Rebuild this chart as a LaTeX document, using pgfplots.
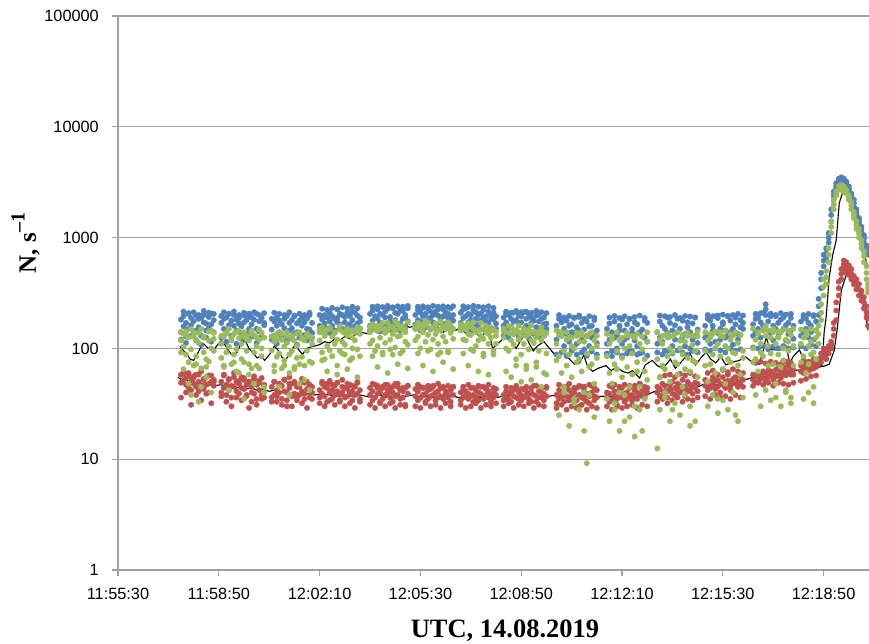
\documentclass[border=0pt]{standalone}
\usepackage{pgfplots}
\pgfplotsset{compat=1.18}
\usepackage{pgfplotstable}
\usepackage{fontspec}
\setmainfont{Liberation Serif}
\newfontfamily\tickfont{Liberation Sans}
\definecolor{cblue}{RGB}{79,129,189}
\definecolor{cred}{RGB}{192,80,77}
\definecolor{cgreen}{RGB}{155,187,89}
\definecolor{cgrid}{RGB}{160,160,160}

% t = seconds after 11:55:30 UTC
\pgfplotstableread{
t b1 b2 g1 g2 r1 r2 b3 g3 r3
125 182 140 118 92 58 49 120 140 36
130 195 158 104 135 52 61 215 65 60
135 170 128 88 142 47 55 112 132 40
140 205 150 126 48 60 44 208 75 56
145 162 188 98 150 51 42 130 38 31
150 176 134 140 70 56 48 212 128 54
155 198 145 85 120 45 58 118 72 38
160 155 185 112 33 50 41 200 138 58
165 188 130 150 66 62 46 108 45 34
170 172 200 92 128 43 53 218 125 52
175 145 168 55 80 55 47 125 68 39
180 192 152 76 118 48 40 210 142 57
185 165 206 145 100 57 50 115 40 32
190 180 140 95 138 46 52 205 122 50
205 170 196 110 82 50 40 125 130 37
210 150 185 128 70 44 58 212 68 57
215 190 138 92 140 38 47 115 136 33
220 162 205 150 104 53 42 205 42 52
225 178 125 72 118 46 36 130 125 30
230 200 160 135 88 60 45 215 75 55
235 145 182 98 62 41 50 110 140 36
240 188 168 124 145 48 39 200 60 51
245 158 135 80 110 55 44 122 128 34
250 172 198 140 75 43 52 210 35 54
255 135 180 95 130 37 47 118 122 38
260 195 150 118 58 50 29 206 72 50
265 165 190 66 145 45 40 128 134 33
270 182 128 132 92 39 56 212 48 53
275 150 205 105 70 47 35 112 126 31
280 176 142 148 120 42 51 200 66 49
285 128 188 85 100 54 38 125 138 35
290 162 170 125 45 36 46 208 40 47
305 148 185 96 128 45 36 120 128 33
310 175 130 70 115 38 50 210 62 50
315 190 160 122 84 42 33 110 135 37
320 140 178 90 138 48 40 205 45 46
325 165 120 135 66 35 46 128 120 31
330 185 152 78 104 52 41 200 70 52
335 128 196 112 140 40 30 115 130 34
340 170 145 88 60 44 55 212 38 48
345 152 180 130 95 37 48 122 124 30
350 195 136 68 118 49 39 198 65 50
355 140 168 105 82 34 45 108 136 36
360 178 125 140 72 46 38 206 48 45
365 160 190 84 125 41 53 125 122 32
370 132 172 118 52 39 35 200 70 49
375 186 150 95 136 50 43 118 132 29
380 148 200 128 76 36 47 210 42 46
385 170 138 74 110 45 40 124 126 35
400 160 200 118 140 42 36 140 150 32
405 182 145 92 155 48 39 228 78 50
410 200 168 130 80 37 45 150 142 30
415 150 190 105 148 44 33 222 62 48
420 176 210 150 96 40 51 138 155 34
425 195 160 85 128 35 42 232 85 47
430 140 185 138 110 46 38 145 140 31
435 188 172 120 70 41 49 225 58 49
440 165 205 95 160 38 34 152 148 33
445 200 150 142 115 52 40 235 90 45
450 172 192 108 88 36 44 142 138 30
455 155 210 150 130 43 37 228 65 48
460 196 165 78 140 40 47 148 146 32
465 180 215 125 100 34 41 238 82 46
470 210 158 145 118 45 38 140 140 29
475 168 198 98 155 39 50 230 55 49
480 190 175 135 85 42 35 150 152 33
500 205 160 140 110 38 44 145 155 31
505 178 220 118 165 41 34 238 85 48
510 195 150 160 95 36 47 150 148 29
515 225 185 105 145 44 39 240 68 46
520 170 205 150 125 40 32 142 160 33
525 200 158 88 170 35 45 236 92 44
530 215 190 138 112 47 38 155 150 30
535 160 228 170 145 39 42 242 60 47
540 192 175 120 98 43 36 148 158 32
545 230 165 155 135 33 40 235 88 45
550 180 210 102 175 48 37 152 145 29
555 205 155 165 128 38 45 240 72 48
560 168 222 130 90 42 35 145 152 31
565 218 185 148 160 36 41 238 95 44
570 190 200 115 140 44 31 155 148 30
575 175 230 172 108 39 46 242 66 46
590 200 165 150 118 37 43 150 158 30
595 222 180 128 170 41 34 238 90 47
600 175 210 165 100 36 45 145 150 29
605 195 232 140 155 44 38 240 70 44
610 160 205 115 178 39 33 155 162 32
615 228 185 172 132 35 42 235 95 46
620 190 215 98 150 43 37 148 152 30
625 172 200 155 120 38 46 242 62 45
630 215 160 135 168 34 40 152 155 31
635 198 225 110 145 41 36 238 88 48
640 182 170 175 92 37 44 145 148 29
645 225 195 128 160 45 35 240 75 44
650 168 212 150 115 39 41 150 160 32
655 205 188 95 172 36 38 236 92 46
660 190 230 160 138 42 33 155 146 30
665 178 200 122 150 38 45 240 65 45
680 210 170 145 165 40 34 148 152 31
685 188 225 160 120 36 43 240 90 45
690 230 195 118 150 41 38 152 148 29
695 172 205 168 135 35 39 236 70 47
700 200 180 132 98 44 37 145 158 30
705 220 160 150 172 38 33 242 95 44
710 185 212 105 140 42 36 155 145 32
715 165 200 145 118 34 40 238 62 46
720 208 178 170 130 39 45 148 150 29
725 190 222 122 90 37 35 235 85 45
730 175 195 140 160 43 38 150 155 31
735 215 168 110 135 36 41 240 58 47
740 200 185 155 125 33 39 145 146 30
745 182 210 95 148 40 36 232 88 44
750 168 195 130 110 38 43 150 142 32
765 190 160 125 150 38 34 130 145 30
770 172 205 140 100 41 36 215 62 45
775 200 150 95 160 35 40 125 138 32
780 158 185 155 118 39 33 210 55 44
785 210 175 108 135 42 37 135 148 29
790 180 140 145 80 36 44 218 70 46
795 165 198 120 160 40 35 128 140 31
800 195 172 88 130 34 38 212 50 43
805 150 212 150 110 43 36 132 145 30
810 185 160 130 70 37 41 215 65 45
815 205 145 98 148 35 39 125 135 32
820 170 190 162 118 40 33 210 52 44
825 140 178 112 140 38 46 135 142 29
830 198 155 75 125 33 37 218 68 46
835 175 205 140 95 41 36 128 136 31
840 155 185 118 155 36 40 212 45 44
845 190 165 130 60 39 34 130 140 30
850 168 150 90 138 44 37 208 58 45
870 160 120 110 78 38 32 88 145 29
875 185 140 85 130 35 42 200 25 47
880 130 172 140 60 40 36 92 130 31
885 150 105 95 45 33 38 190 40 45
890 178 135 70 120 37 45 85 140 28
895 115 160 125 88 42 34 196 20 48
900 165 140 55 105 36 39 95 125 30
905 138 190 100 32 40 35 188 35 44
910 155 110 130 75 34 44 88 138 29
915 192 145 80 115 38 30 198 28 46
920 120 170 62 140 45 36 92 132 31
925 148 98 115 40 35 41 185 18 45
930 175 130 90 9.2 39 33 86 128 28
935 105 158 135 68 32 37 195 38 47
940 160 125 72 100 40 46 94 140 30
945 135 180 48 118 37 34 190 24 44
950 145 112 105 82 42 36 88 130 29
970 150 110 85 35 36 40 90 135 30
975 120 168 60 110 39 33 190 22 46
980 95 140 120 48 34 45 85 128 28
985 175 125 72 28 41 37 196 32 47
990 132 100 95 65 35 30 92 140 31
995 160 145 40 118 38 42 188 18 45
1000 110 182 82 55 44 36 86 125 29
1005 145 120 22 100 33 39 195 38 47
1010 125 165 68 130 40 35 90 138 30
1015 185 95 105 45 37 46 185 24 44
1020 138 150 58 90 34 38 94 130 31
1025 118 172 125 30 42 36 192 16 46
1030 165 105 75 62 35 40 88 135 29
1035 90 140 45 110 39 48 198 28 48
1040 148 128 98 18 43 37 92 128 31
1045 125 178 62 80 36 41 188 35 45
1050 170 115 115 52 40 44 86 140 30
1070 140 110 80 12.5 40 45 92 140 33
1075 175 125 55 120 43 37 198 28 55
1080 115 160 110 70 38 48 88 130 35
1085 150 95 65 40 46 41 195 36 57
1090 190 138 125 85 41 36 95 135 32
1095 128 170 50 100 47 43 192 22 58
1100 105 145 92 28 39 50 90 128 34
1105 162 120 135 75 44 38 200 32 55
1110 140 185 72 58 48 42 96 140 36
1115 118 150 100 118 40 46 188 25 59
1120 178 128 45 88 43 52 92 132 33
1125 135 105 115 65 37 45 196 38 57
1130 155 172 82 130 50 41 88 138 35
1135 100 140 62 20 42 47 194 30 60
1140 168 120 108 78 45 39 95 130 34
1145 130 190 75 95 49 44 190 22 56
1150 148 112 128 55 41 48 92 142 36
1165 160 125 95 70 46 52 98 140 37
1170 130 185 118 50 42 49 200 30 60
1175 178 110 72 125 50 44 95 135 35
1180 145 160 135 88 47 55 195 38 63
1185 115 195 60 100 43 51 100 142 38
1190 188 138 110 35 52 45 198 26 58
1195 150 120 85 140 48 40 96 130 36
1200 172 165 128 65 55 47 202 34 64
1205 125 145 48 105 44 50 92 145 37
1210 195 130 100 80 51 58 196 28 61
1215 140 178 75 120 46 42 100 135 35
1220 108 150 130 92 53 49 200 40 65
1225 165 190 90 25 48 55 95 140 38
1230 135 120 112 70 50 45 205 22 62
1235 180 155 58 132 56 47 98 132 36
1240 150 170 95 82 45 52 198 36 60
1260 165 130 100 75 52 58 102 150 46
1265 140 185 80 120 56 49 205 38 74
1270 190 150 135 62 50 60 100 140 49
1275 125 172 92 110 58 53 208 30 76
1280 210 160 145 85 54 62 105 148 47
1285 250 225 160 130 60 51 200 42 73
1290 175 145 105 70 55 63 98 145 49
1295 138 195 125 90 62 57 206 34 76
1300 160 118 72 140 58 52 104 150 46
1305 195 150 110 48 64 56 200 36 74
1310 128 170 88 125 57 66 100 142 49
1315 182 140 140 68 61 54 208 30 72
1320 150 190 78 100 59 68 105 148 48
1325 118 162 120 42 63 57 202 40 76
1330 170 135 95 115 60 70 100 145 47
1335 145 188 132 36 66 58 205 32 74
1340 160 122 70 105 58 64 102 150 49
1355 175 130 110 75 62 70 105 148 51
1360 140 190 85 125 66 60 200 35 78
1365 185 150 130 60 64 72 100 142 53
1370 125 170 72 105 68 63 205 40 76
1375 160 140 115 88 70 65 108 150 56
1380 195 120 92 45 66 74 200 32 80
1385 145 175 125 80 72 68 105 145 57
1390 200 280 110 160 72 80 240 135 76
1395 350 480 180 250 75 90 420 210 82
1400 550 700 300 420 85 100 620 360 92
1405 800 650 500 380 95 80 720 440 88
1410 900 1100 600 800 105 90 1000 700 98
1415 1400 1800 1100 1400 115 100 1600 1250 108
1420 2200 2600 1800 2200 130 170 2400 2000 150
1425 2800 3100 2400 2600 180 260 2950 2500 220
1430 3200 3400 2700 2900 300 400 3300 2800 350
1435 3500 3300 3000 2700 420 520 3400 2850 470
1440 3400 3100 2900 2600 520 620 3250 2750 570
1445 3200 2900 2700 2500 600 480 3050 2600 540
1450 2900 2600 2400 2200 560 460 2750 2300 510
1455 2500 2300 2100 1800 520 420 2400 1950 470
1460 2200 1900 1700 1500 450 380 2050 1600 410
1465 1800 1600 1400 1200 420 340 1700 1300 380
1470 1500 1350 1200 1000 380 300 1420 1100 340
1475 1250 1100 950 800 330 270 1180 880 300
1480 1050 900 750 600 290 230 980 680 260
1485 850 750 550 420 240 190 800 480 215
1488 780 700 380 320 210 160 740 350 185
}\scat

\pgfplotstableread{
t v
123 105
130 95
137 88
143 80
150 78
157 88
163 100
170 110
177 102
185 98
192 100
205 118
212 108
220 95
228 85
236 92
244 110
252 118
260 100
268 90
276 82
284 86
291 78
302 90
310 105
318 96
326 82
334 80
342 95
350 105
358 98
366 88
374 100
386 104
400 108
410 115
420 112
430 122
440 118
450 128
460 122
470 132
482 140
498 135
506 150
514 138
522 145
530 160
538 150
546 142
554 158
562 150
570 165
578 155
590 160
598 150
606 140
614 160
622 148
630 165
638 152
646 140
654 150
662 162
670 145
680 155
688 140
696 128
704 148
712 135
720 125
728 140
736 145
743 100
771 130
780 115
790 100
800 120
808 135
816 110
824 95
832 105
845 115
870 84
880 95
896 80
906 72
916 74
924 87
932 68
942 62
952 66
968 70
978 63
990 68
1001 62
1012 60
1021 63
1035 54
1046 71
1060 78
1070 70
1080 66
1088 72
1096 80
1106 66
1120 78
1134 92
1146 71
1158 84
1167 92
1176 80
1186 74
1196 84
1206 71
1219 75
1233 78
1245 84
1258 75
1272 72
1280 95
1286 127
1292 103
1298 97
1318 97
1325 106
1333 74
1340 85
1352 97
1365 71
1378 72
1385 66
1391 68
1397 70
1401 140
1405 192
1411 440
1418 700
1425 950
1431 2050
1437 2500
1441 2650
1447 2400
1455 1770
1463 1400
1471 1100
1481 700
1488 540
}\avgup

\pgfplotstableread{
t v
119 55
126 52
133 54
140 50
147 51
155 48
163 49
172 47
180 48
190 46
205 47
215 45
225 46
235 44
245 45
255 43
265 44
275 42
285 43
300 41
310 42
320 40
330 41
340 39
350 40
362 39
375 39
390 38
405 39
420 38
435 37
450 38
465 37
480 38
498 36.5
510 37
520 38
530 36
540 37
555 36
570 37
585 38
600 36
615 37
630 36
645 37
660 38
675 36
690 37
705 38
720 36
735 37
750 36
765 37
780 38
795 36
810 37
825 38
840 36
855 37
870 38
885 37
900 36
915 38
930 37
945 36
960 37
975 36.5
990 37
1005 36
1020 36.5
1035 37
1050 38
1060 40
1070 42
1080 41
1090 43
1100 42
1110 44
1120 45
1130 43
1140 46
1150 45
1160 47
1170 46
1180 48
1190 47
1200 46
1210 48
1220 47
1230 50
1240 52
1250 53
1260 55
1270 54
1280 56
1290 55
1300 58
1312 60
1325 62
1340 63
1352 64
1365 66
1378 67
1390 68
1400 69
1411 72
1421 96
1427 150
1435 335
1445 460
1455 450
1465 400
1475 290
1483 200
1488 146
}\avglo

\begin{document}
\begin{tikzpicture}
\path[use as bounding box] (-118pt,-73pt) rectangle (751pt,570pt);
\begin{axis}[
  at={(0pt,0pt)}, anchor=south west,
  scale only axis, width=751pt, height=554pt,
  ymode=log, ymin=1, ymax=100000,
  xmin=0, xmax=1490,
  xtick={0,200,400,600,800,1000,1200,1400},
  xticklabels={11:55:30,11:58:50,12:02:10,12:05:30,12:08:50,12:12:10,12:15:30,12:18:50},
  ytick={1,10,100,1000,10000,100000},
  yticklabels={1,10,100,1000,10000,100000},
  minor tick num=0, yminorticks=false,
  axis x line*=bottom, axis y line*=left,
  axis line style={cgrid, line width=1.2pt, -},
  tick align=outside, major tick length=6pt,
  tick style={cgrid, line width=1.2pt},
  ymajorgrids, grid style={cgrid, line width=1.2pt},
  tick label style={font=\tickfont\fontsize{16.3}{18}\selectfont, text=black},
  yticklabel style={anchor=east, inner sep=0pt, xshift=-13pt},
  xticklabel style={anchor=north, inner sep=0pt, yshift=-12pt},
  clip=true,
  scatter/.style={only marks, mark=*, mark size=2.7pt},
]
\addplot[scatter, color=cblue] table[x=t, y=b1] {\scat};
\addplot[scatter, color=cblue] table[x=t, y=b2] {\scat};
\addplot[scatter, color=cblue] table[x=t, y=b3] {\scat};
\addplot[scatter, color=cred] table[x=t, y=r1] {\scat};
\addplot[scatter, color=cred] table[x=t, y=r2] {\scat};
\addplot[scatter, color=cred] table[x=t, y=r3] {\scat};
\addplot[scatter, color=cgreen] table[x=t, y=g1] {\scat};
\addplot[scatter, color=cgreen] table[x=t, y=g2] {\scat};
\addplot[scatter, color=cgreen] table[x=t, y=g3] {\scat};
\addplot[black, line width=1.1pt, sharp plot, no marks] table[x=t, y=v] {\avgup};
\addplot[black, line width=1.1pt, sharp plot, no marks] table[x=t, y=v] {\avglo};
\end{axis}
\node[font=\bfseries\fontsize{26.5}{28}\selectfont, anchor=base] at (387pt,-67pt) {UTC, 14.08.2019};
\node[font=\bfseries\fontsize{25}{27}\selectfont, rotate=90, anchor=base] at (-82pt,327pt) {N, s\raisebox{0.45em}{\fontsize{20}{20}\selectfont –1}};
\end{tikzpicture}
\end{document}
